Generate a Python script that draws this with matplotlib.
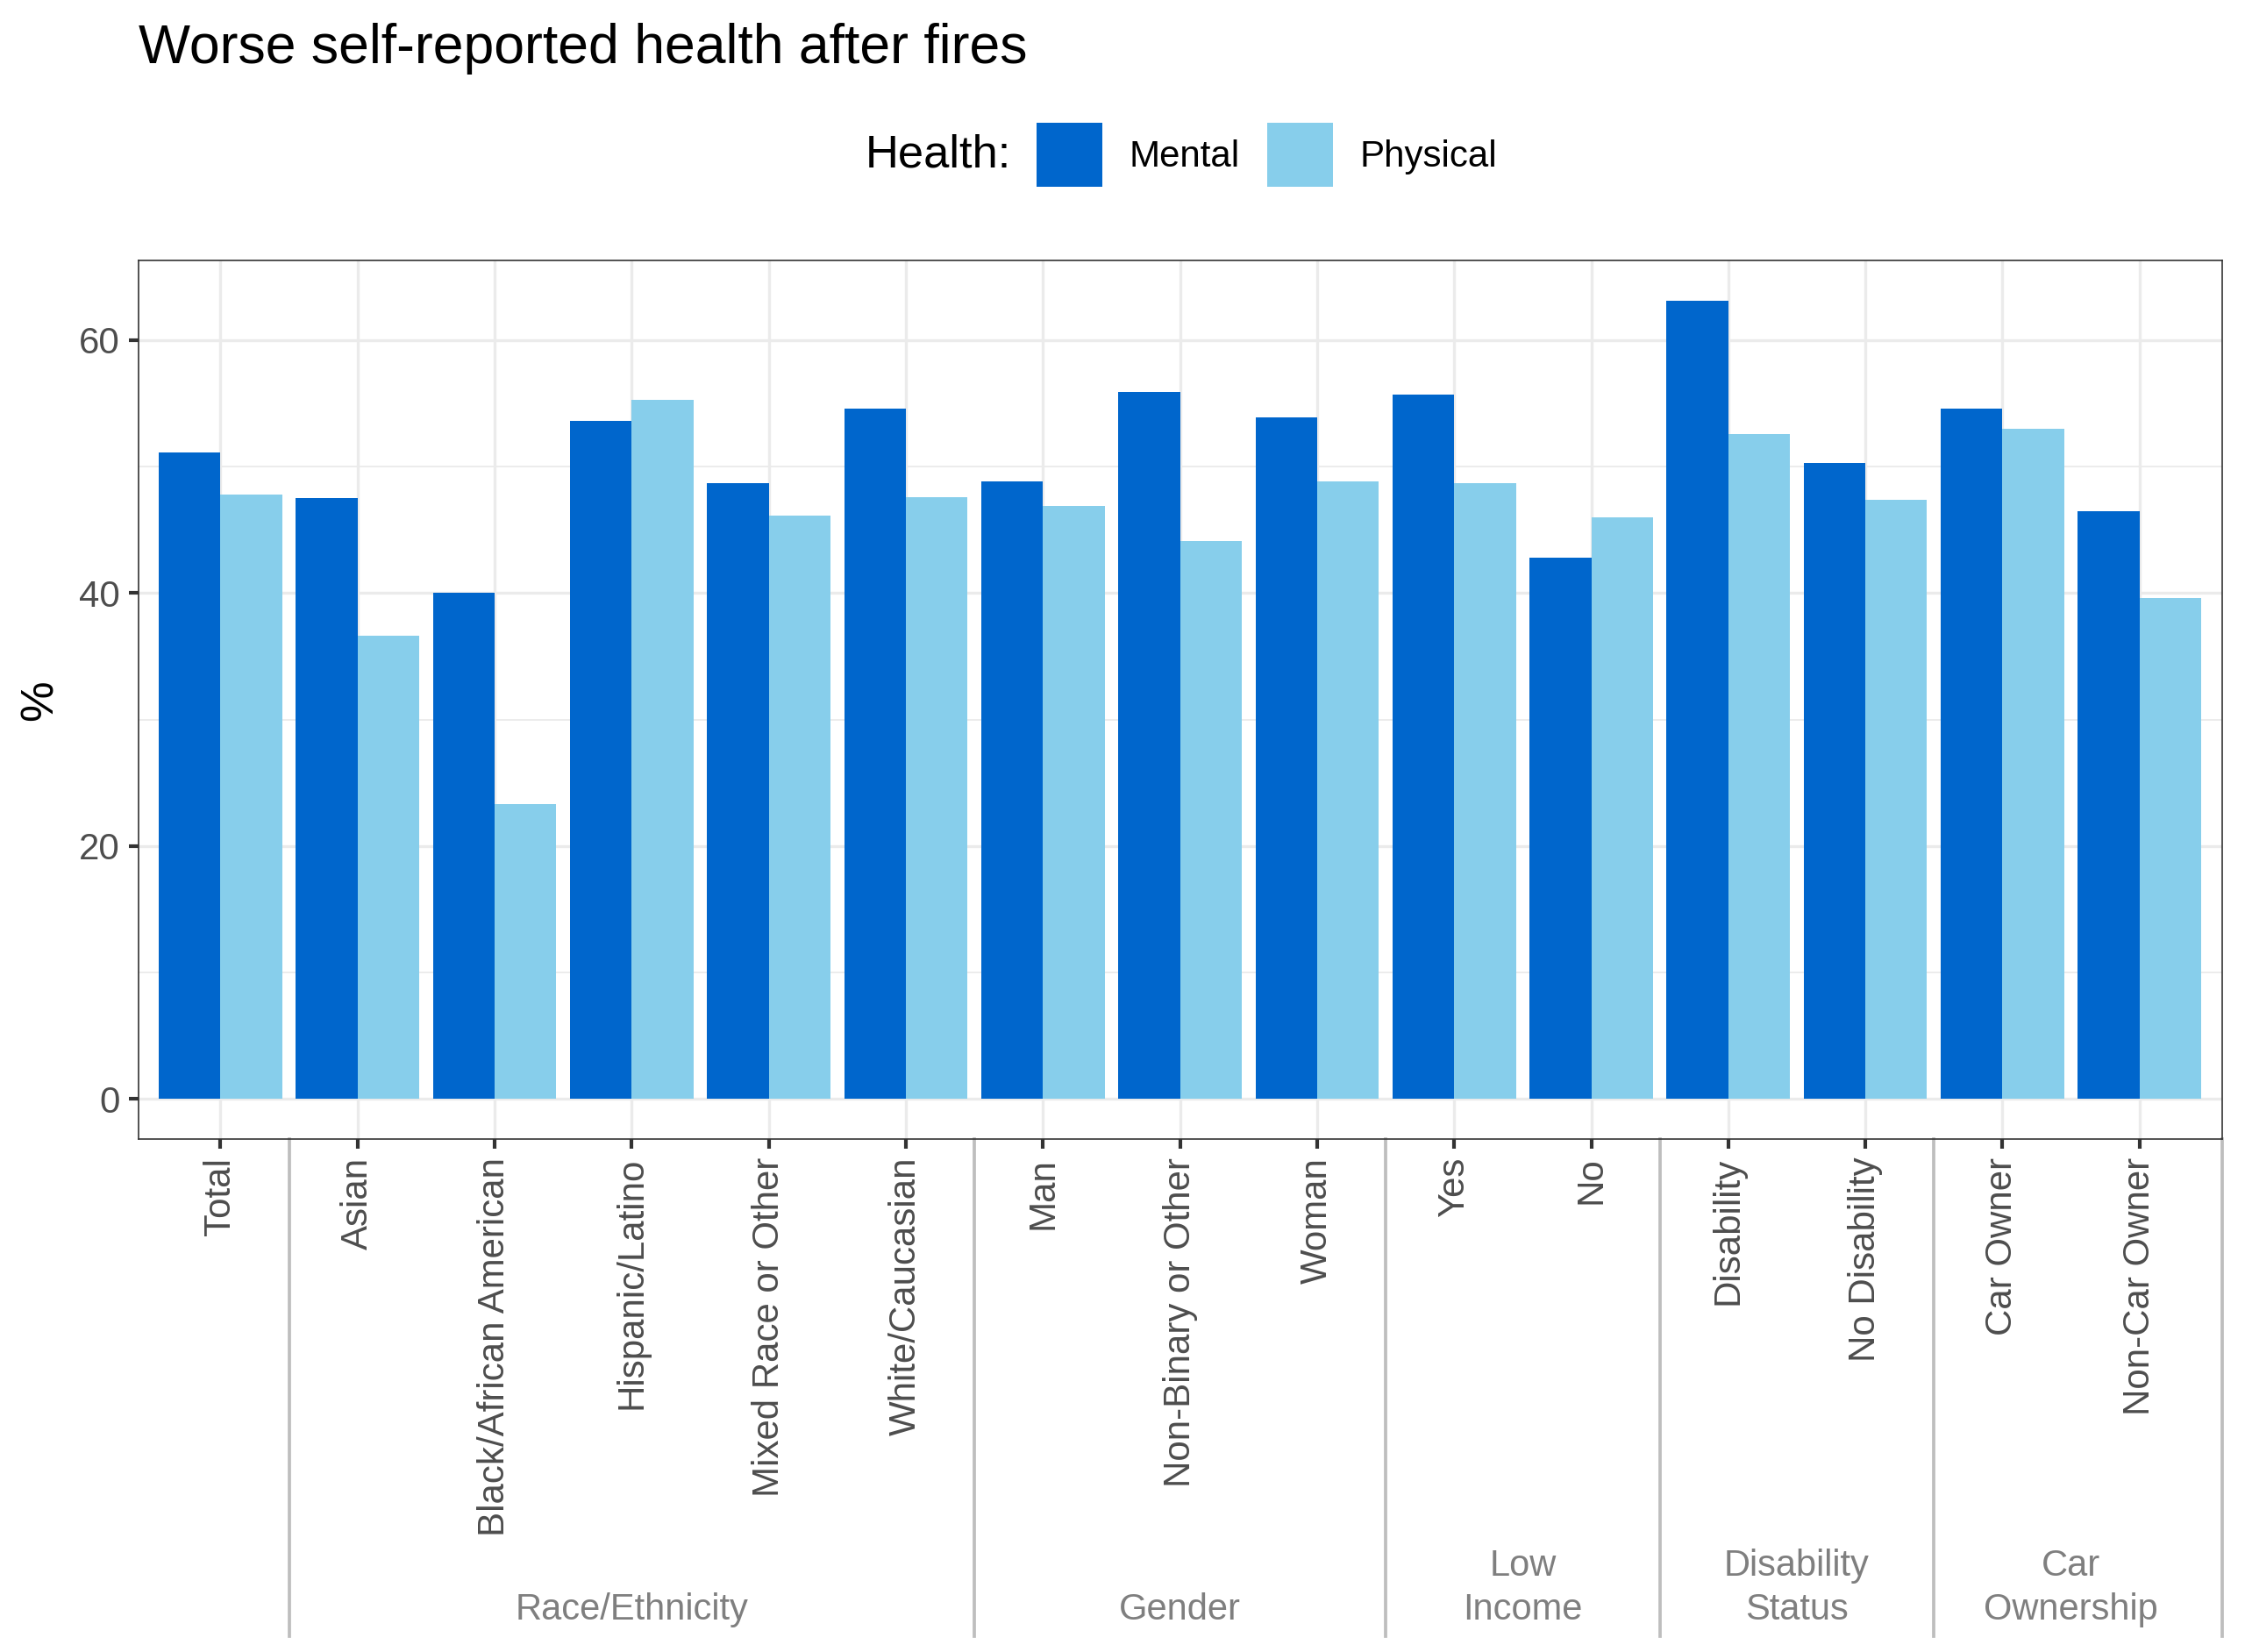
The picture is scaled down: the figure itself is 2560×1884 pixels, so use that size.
import numpy as np
import matplotlib.pyplot as plt
from matplotlib.transforms import blended_transform_factory

plt.rcParams['font.family'] = ['Liberation Sans', 'DejaVu Sans']

# Data
categories = ["Total", "Asian", "Black/African American", "Hispanic/Latino",
              "Mixed Race or Other", "White/Caucasian", "Man", "Non-Binary or Other",
              "Woman", "Yes", "No", "Disability", "No Disability", "Car Owner",
              "Non-Car Owner"]
mental = [51.1, 47.5, 40.0, 53.6, 48.7, 54.6, 48.8, 55.9, 53.9, 55.7, 42.8,
          63.1, 50.3, 54.6, 46.5]
physical = [47.8, 36.6, 23.3, 55.3, 46.1, 47.6, 46.9, 44.1, 48.8, 48.7, 46.0,
            52.6, 47.4, 53.0, 39.6]
group_names = ["Race/Ethnicity", "Gender", "Low\nIncome", "Disability\nStatus",
               "Car\nOwnership"]
group_sizes = [5, 3, 2, 2, 2]

c_mental = "#0066CC"
c_physical = "#87CEEB"

fig = plt.figure(figsize=(2560 / 300, 1884 / 300), dpi=300)
ax = fig.add_axes([0.0616, 0.3105, 0.98965 - 0.0616, 0.8421 - 0.3105])

x = np.arange(1, len(categories) + 1)
w = 0.45
b1 = ax.bar(x - w / 2, mental, width=w, color=c_mental, label="Mental", zorder=3)
b2 = ax.bar(x + w / 2, physical, width=w, color=c_physical, label="Physical", zorder=3)

ymax = max(max(mental), max(physical))
ax.set_xlim(0.4, len(categories) + 0.6)
ax.set_ylim(-0.05 * ymax, 1.05 * ymax)

ax.set_yticks([0, 20, 40, 60])
ax.set_yticks([10, 30, 50], minor=True)
ax.set_xticks(x)
ax.set_xticklabels(categories, rotation=90, ha="center", va="top")

ax.grid(True, which="major", color="#EBEBEB", linewidth=0.8, zorder=0)
ax.grid(True, which="minor", axis="y", color="#EBEBEB", linewidth=0.45, zorder=0)
ax.set_axisbelow(True)

for s in ax.spines.values():
    s.set_color("#333333")
    s.set_linewidth(0.4)

ax.tick_params(axis="both", which="major", length=2.75, width=1.0, color="#333333",
               labelsize=10.1, labelcolor="#4D4D4D", pad=2.2)
ax.tick_params(axis="y", which="minor", length=0)

# y axis title
fig.text(0.018, (0.3105 + 0.8421) / 2, "%", rotation=90, fontsize=12.6,
         ha="center", va="center")

# group separators and labels below the axis
trans = blended_transform_factory(ax.transData, fig.transFigure)
edges = [1.5]
for n in group_sizes:
    edges.append(edges[-1] + n)
edges[-1] = len(categories) + 0.6
for e in edges:
    ax.plot([e, e], [0.3105, 0.0096], transform=trans, color="#BEBEBE",
            linewidth=0.9, clip_on=False)
start = 2
for name, n in zip(group_names, group_sizes):
    mid = start + (n - 1) / 2
    ax.text(mid, 0.0150, name, transform=trans, ha="center", va="bottom",
            fontsize=10, color="#7F7F7F", linespacing=1.32)
    start += n

# title and legend
fig.text(0.0616, 0.962, "Worse self-reported health after fires", fontsize=15,
         ha="left", va="baseline")
fig.text(0.4504, 0.9063, "Health:", fontsize=12.6, ha="right", va="center")
fig.legend(handles=[b1, b2], labels=["Mental", "Physical"], ncol=2,
           loc="center left", bbox_to_anchor=(0.4617, 0.9063), frameon=False,
           fontsize=10.1, handlelength=1.78, handleheight=2.31, handletextpad=0.72,
           columnspacing=0.75, borderpad=0, borderaxespad=0)

fig.savefig("out.png", dpi=300)
